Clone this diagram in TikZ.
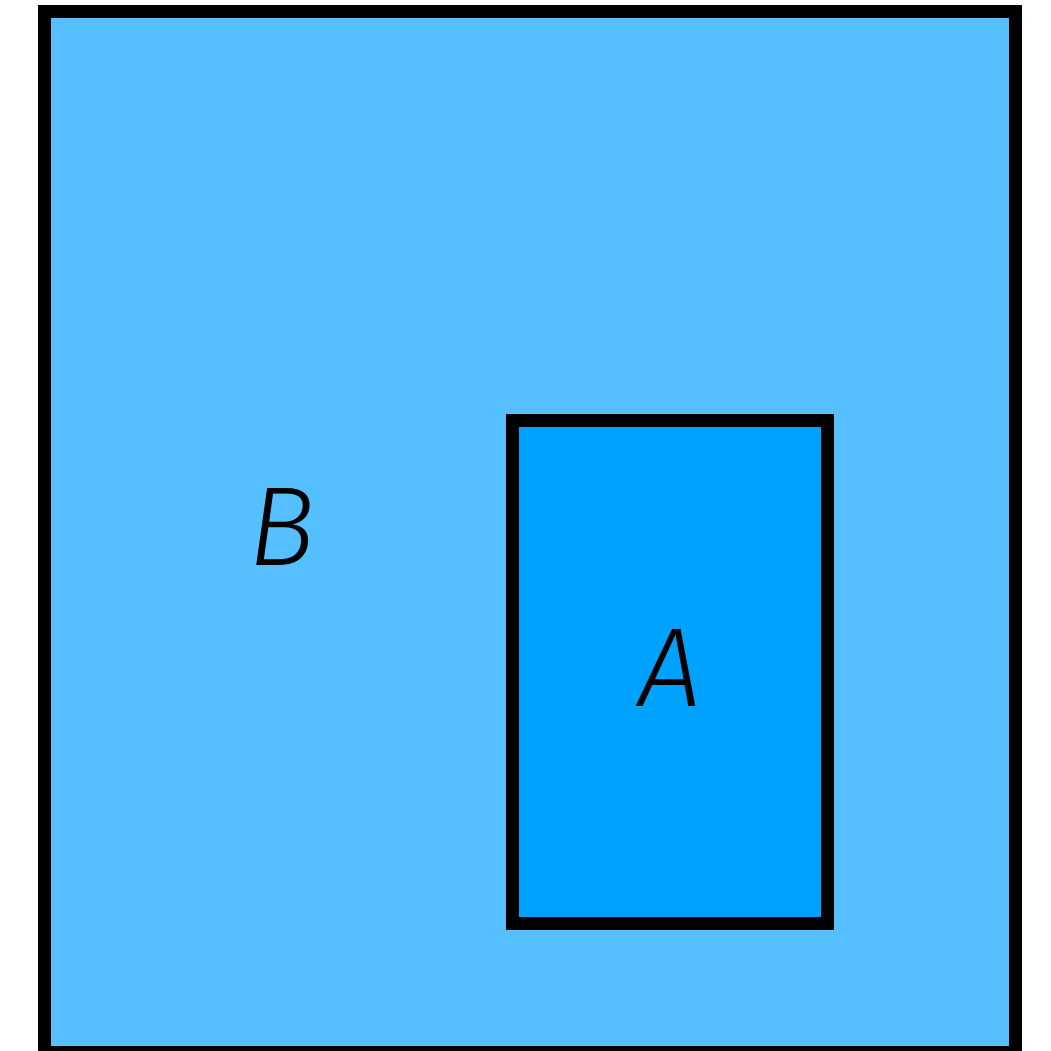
\documentclass[tikz,border=0pt]{standalone}
\usepackage{fontspec}
\newfontfamily\setfont{Fira Sans Light Italic}
\usetikzlibrary{calc}
\definecolor{setB}{RGB}{86,191,255}
\definecolor{setA}{RGB}{0,162,255}
\tikzset{
  set box/.style={line width=3.7pt, draw=black},
  set label/.style={font=\setfont\fontsize{32}{32}\selectfont, inner sep=0pt},
}
\begin{document}
\begin{tikzpicture}
  \useasboundingbox (0,0) rectangle (10.5,10.51);
  \clip (0,0) rectangle (10.5,10.51);
  \draw[set box, fill=setB] (0.445,-0.015) rectangle (10.155,10.39);
  \draw[set box, fill=setA] (5.127,1.277) rectangle (8.273,6.30);
  \node[set label] (labB) at (2.815,5.24) {B};
  \node[set label] (labA) at (6.705,3.835) {A};
\end{tikzpicture}
\end{document}
